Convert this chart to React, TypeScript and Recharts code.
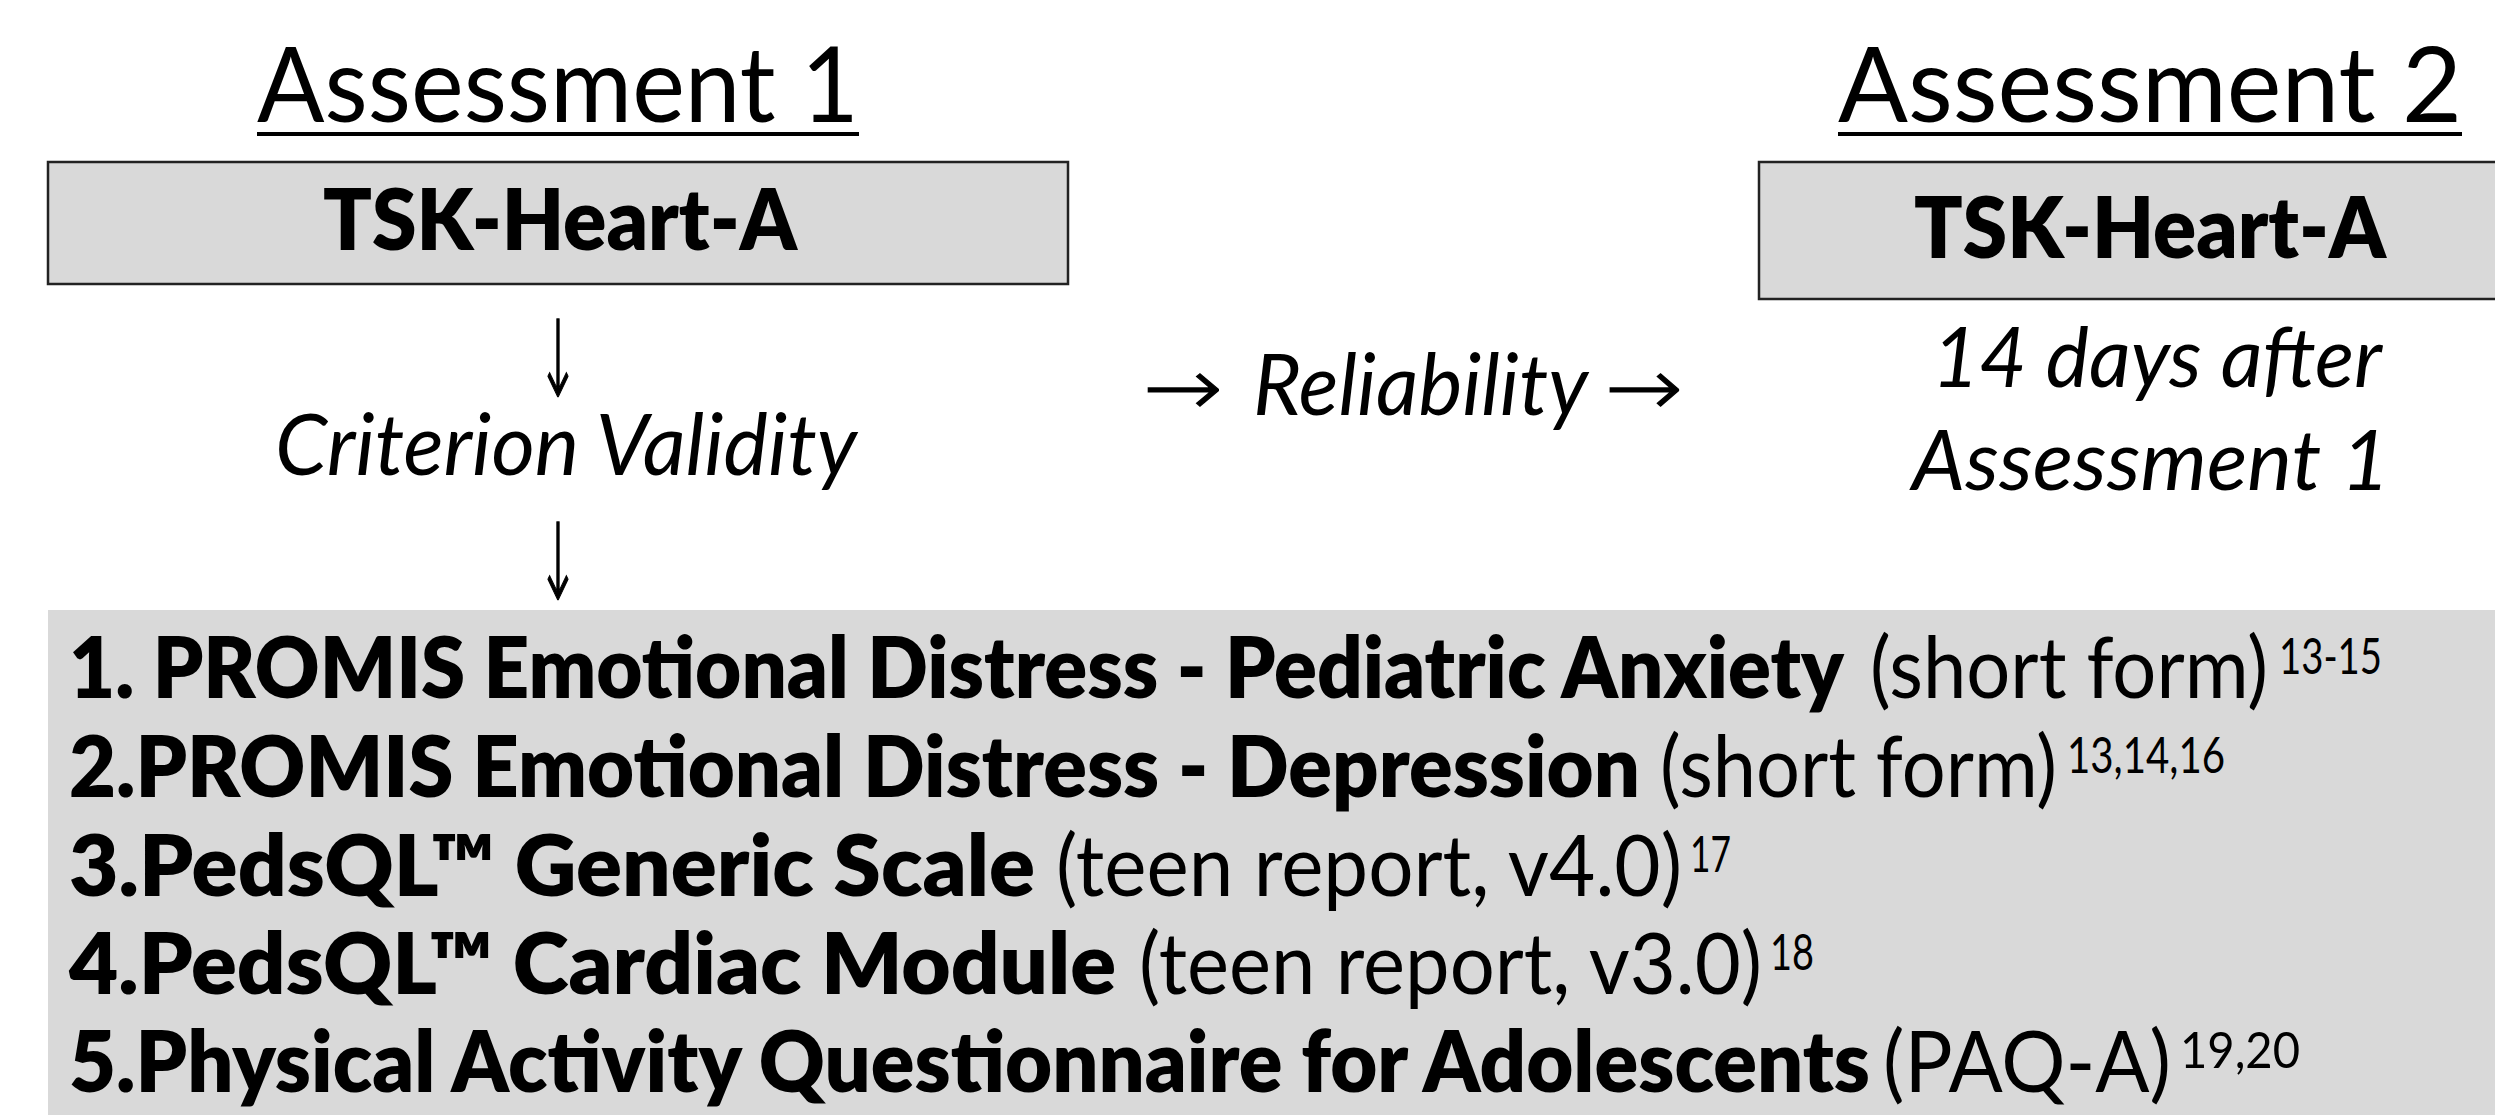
import { ComposedChart, XAxis, YAxis, Customized } from 'recharts';

// texts of the flow diagram
const assessmentTitles = ['Assessment 1', 'Assessment 2'];
const instrumentName = 'TSK-Heart-A';
const validityLabel = 'Criterion Validity';
const reliabilityLabel = 'Reliability';
const retestNote = ['14 days after', 'Assessment 1'];
const measureNames = [
  '1. PROMIS Emotional Distress - Pediatric Anxiety',
  '2.PROMIS Emotional Distress - Depression',
  '3.PedsQL™ Generic Scale',
  '4.PedsQL™ Cardiac Module',
  '5.Physical Activity Questionnaire for Adolescents',
];
const measureDetails = ['(short form)', '(short form)', '(teen report, v4.0)', '(teen report, v3.0)', '(PAQ-A)'];
const measureRefs = ['13-15', '13,14,16', '17', '18', '19,20'];

const W = 2495;
const H = 1115;
const GREY = '#d9d9d9';
const INK = '#000';
const FONT = 'Lato, "Open Sans", sans-serif';
const ARROW_FONT = '"DejaVu Sans", sans-serif';

// layout (pixels) for each piece of text: [start, end]
const titleSpans = [[257, 859], [1838, 2462]];
const nameSpans = [[323, 797], [1914, 2386]];
const nameBaselines = [250, 258];
const boxes = [[48, 1068, 162, 284], [1759, 2530, 162, 299]];
const lineBaselines = [698, 797, 896, 994, 1092];
const nameEnds = [1844, 1640, 1035, 1116, 1870];
const detailSpans = [[1870, 2268], [1660, 2057], [1056, 1682], [1139, 1762], [1883, 2171]];
const refSpans = [[2279, 2382], [2067, 2225], [1690, 1731], [1770, 1814], [2180, 2300]];

function T(props: any) {
  const { x1, x2, y, size, weight = 400, italic = false, family = FONT, stroke, children } = props;
  return (
    <text
      x={x1}
      y={y}
      fontSize={size}
      fontWeight={weight}
      fontStyle={italic ? 'italic' : 'normal'}
      fontFamily={family}
      fill={INK}
      stroke={stroke ? INK : undefined}
      strokeWidth={stroke}
      textLength={x2 - x1}
      lengthAdjust="spacingAndGlyphs"
    >
      {children}
    </text>
  );
}

function Diagram() {
  return (
    <g>
      {boxes.map((b, i) => (
        <rect key={i} x={b[0]} y={b[2]} width={b[1] - b[0]} height={b[3] - b[2]} fill={GREY} stroke="#222" strokeWidth={2.5} />
      ))}
      <rect x={48} y={610} width={W} height={H} fill={GREY} />

      {assessmentTitles.map((t, i) => (
        <g key={t}>
          <T x1={titleSpans[i][0]} x2={titleSpans[i][1]} y={122} size={105}>{t}</T>
          <rect x={titleSpans[i][0]} y={132} width={titleSpans[i][1] - titleSpans[i][0]} height={4} fill={INK} />
        </g>
      ))}
      {nameSpans.map((s, i) => (
        <T key={i} x1={s[0]} x2={s[1]} y={nameBaselines[i]} size={85} weight={800}>{instrumentName}</T>
      ))}

      <T x1={537} x2={579} y={396} size={106} weight={200} family={ARROW_FONT} stroke={1.6}>↓</T>
      <T x1={275} x2={857} y={475} size={86} italic>{validityLabel}</T>
      <T x1={537} x2={579} y={599} size={106} weight={200} family={ARROW_FONT} stroke={1.6}>↓</T>

      <text y={415} fontSize={86} fontFamily={FONT} fill={INK}>
        <tspan x={1143} fontFamily={ARROW_FONT} fontWeight={200} fontSize={80} stroke={INK} strokeWidth={1.2} textLength={80} lengthAdjust="spacingAndGlyphs">→</tspan>
        <tspan x={1253} fontStyle="italic" textLength={335} lengthAdjust="spacingAndGlyphs">{reliabilityLabel}</tspan>
        <tspan x={1605} fontFamily={ARROW_FONT} fontWeight={200} fontSize={80} stroke={INK} strokeWidth={1.2} textLength={78} lengthAdjust="spacingAndGlyphs">→</tspan>
      </text>

      <T x1={1932} x2={2382} y={387} size={84} italic>{retestNote[0]}</T>
      <T x1={1912} x2={2390} y={490} size={84} italic>{retestNote[1]}</T>

      {measureNames.map((name, i) => (
        <text key={name} y={lineBaselines[i]} fontSize={85} fontFamily={FONT} fill={INK}>
          <tspan x={69} fontWeight={800} textLength={nameEnds[i] - 69} lengthAdjust="spacingAndGlyphs">{name}</tspan>
          <tspan x={detailSpans[i][0]} textLength={detailSpans[i][1] - detailSpans[i][0]} lengthAdjust="spacingAndGlyphs">{measureDetails[i]}</tspan>
          <tspan x={refSpans[i][0]} y={lineBaselines[i] - 24} fontSize={50} textLength={refSpans[i][1] - refSpans[i][0]} lengthAdjust="spacingAndGlyphs">{measureRefs[i]}</tspan>
        </text>
      ))}
    </g>
  );
}

export default function App() {
  return (
    <div style={{ position: 'absolute', left: 0, top: 0, width: W, height: H, overflow: 'hidden', background: '#fff' }}>
      <ComposedChart width={W} height={H} data={[]} margin={{ top: 0, right: 0, bottom: 0, left: 0 }}>
        <XAxis type="number" dataKey="x" domain={[0, W]} hide allowDataOverflow />
        <YAxis type="number" dataKey="y" domain={[0, H]} reversed hide allowDataOverflow />
        <Customized component={<Diagram />} />
      </ComposedChart>
    </div>
  );
}
